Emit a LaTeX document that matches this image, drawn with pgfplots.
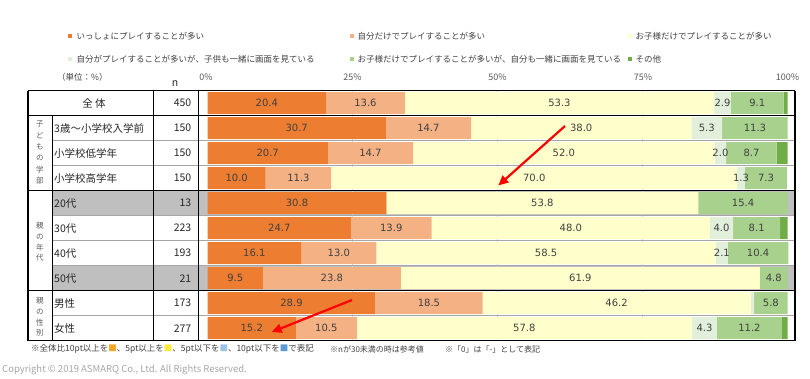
\documentclass[border=0pt]{standalone}
\usepackage{fontspec}
\setmainfont{Noto Sans CJK JP}
\newfontfamily\numfont{DejaVu Sans}
\usepackage{pgfplots}
\pgfplotsset{compat=1.18}
\usepackage{pgfplotstable}
\usetikzlibrary{arrows.meta}
\definecolor{c1}{HTML}{ED7D31}
\definecolor{c2}{HTML}{F4B183}
\definecolor{c3}{HTML}{FFFFCC}
\definecolor{c4}{HTML}{E2EFDA}
\definecolor{c5}{HTML}{A9D18E}
\definecolor{c6}{HTML}{70AD47}
\definecolor{rowgray}{HTML}{BFBFBF}
\definecolor{gridgray}{HTML}{D9D9D9}
\definecolor{sepgray}{HTML}{A6A6A6}
\definecolor{txt}{HTML}{262626}
\definecolor{lab}{HTML}{404040}
\definecolor{subgray}{HTML}{595959}
\definecolor{nOrange}{HTML}{F5A623}
\definecolor{nYellow}{HTML}{FFEB3B}
\definecolor{nLBlue}{HTML}{9DC3E6}
\definecolor{nBlue}{HTML}{5B9BD5}

\pgfplotstableread{
row a b c d e f
0 20.4 13.6 53.3 2.9 9.1 0.7
1 30.7 14.7 38.0 5.3 11.3 0
2 20.7 14.7 52.0 2.0 8.7 1.9
3 10.0 11.3 70.0 1.3 7.3 0
4 30.8 0 53.8 0 15.4 0
5 24.7 13.9 48.0 4.0 8.1 1.3
6 16.1 13.0 58.5 2.1 10.4 0
7 9.5 23.8 61.9 0 4.8 0
8 28.9 18.5 46.2 0.6 5.8 0
9 15.2 10.5 57.8 4.3 11.2 1.0
}\datatable

\pgfplotsset{
  commonax/.style={at={(0pt,0pt)}, anchor=south west, scale only axis,
    width=767pt, height=250pt,
    xmin=-30.98, xmax=101.26, ymin=-0.5, ymax=9.5, y dir=reverse,
    hide axis, clip=false},
}

\begin{document}
\begin{tikzpicture}[pix/.style={x=1pt,y=-1pt,shift={(-28pt,340.7pt)}}]
\path[use as bounding box] (-28pt,-38.3pt) rectangle (782pt,340.7pt);
% backgrounds
\begin{scope}[pix]
  \fill[rowgray] (52,190.7) rectangle (795,215.7);
  \fill[rowgray] (52,265.7) rectangle (795,290.7);
  \draw[gridgray, line width=0.6pt] (352.7,90.7) -- (352.7,340.7);
  \draw[gridgray, line width=0.6pt] (497.7,90.7) -- (497.7,340.7);
  \draw[gridgray, line width=0.6pt] (642.7,90.7) -- (642.7,340.7);
\end{scope}

\begin{axis}[commonax, xbar stacked, bar width=22pt]
\addplot[fill=c1, draw=none] table[x=a, y=row]{\datatable};
\addplot[fill=c2, draw=none] table[x=b, y=row]{\datatable};
\addplot[fill=c3, draw=none] table[x=c, y=row]{\datatable};
\addplot[fill=c4, draw=none] table[x=d, y=row]{\datatable};
\addplot[fill=c5, draw=none] table[x=e, y=row]{\datatable};
\addplot[fill=c6, draw=none] table[x=f, y=row]{\datatable};
\end{axis}

% segment value labels (at the middle of each segment)
\begin{axis}[commonax]
\addplot[draw=none, mark=none, point meta=explicit symbolic, nodes near coords,
  every node near coord/.append style={anchor=center, inner sep=0pt,
    font=\numfont\fontsize{10}{12}\selectfont, text=lab}]
coordinates {
(10.2,0) [20.4] (27.2,0) [13.6] (60.65,0) [53.3] (88.75,0) [2.9] (94.75,0) [9.1]
(15.35,1) [30.7] (38.05,1) [14.7] (64.4,1) [38.0] (86.05,1) [5.3] (94.35,1) [11.3]
(10.35,2) [20.7] (28.05,2) [14.7] (61.4,2) [52.0] (88.4,2) [2.0] (93.75,2) [8.7]
(5.0,3) [10.0] (15.65,3) [11.3] (56.3,3) [70.0] (91.95,3) [1.3] (96.25,3) [7.3]
(15.4,4) [30.8] (57.7,4) [53.8] (92.3,4) [15.4]
(12.35,5) [24.7] (31.65,5) [13.9] (62.6,5) [48.0] (88.6,5) [4.0] (94.65,5) [8.1]
(8.05,6) [16.1] (22.6,6) [13.0] (58.35,6) [58.5] (88.65,6) [2.1] (94.9,6) [10.4]
(4.75,7) [9.5] (21.4,7) [23.8] (64.25,7) [61.9] (97.6,7) [4.8]
(14.45,8) [28.9] (38.15,8) [18.5] (70.5,8) [46.2] (97.1,8) [5.8]
(7.6,9) [15.2] (20.45,9) [10.5] (54.6,9) [57.8] (85.65,9) [4.3] (93.4,9) [11.2]
};
\end{axis}

\begin{scope}[pix]
  % horizontal lines
  \foreach \yy in {140.7,165.7,215.7,240.7,265.7,315.7}
    \draw[sepgray, line width=0.5pt] (52,\yy) -- (795,\yy);
  \foreach \yy in {90.7,115.7,190.7,290.7,340.7}
    \draw[black, line width=1.1pt] (28,\yy) -- (795,\yy);
  % vertical lines
  \draw[black, line width=1.1pt] (28,90.7) -- (28,340.7);
  \draw[black, line width=1.1pt] (795,90.7) -- (795,340.7);
  \draw[black, line width=0.7pt] (52,115.7) -- (52,340.7);
  \draw[black, line width=0.7pt] (153,90.7) -- (153,340.7);
  \draw[black, line width=0.7pt] (198,90.7) -- (198,340.7);

  % table text
  \begin{scope}[every node/.style={inner sep=0pt, text=txt, font=\fontsize{10.5}{12}\selectfont}]
    \node at (94,103.2) {全 体};
    \node[anchor=west] at (54,128.2) {3歳〜小学校入学前};
    \node[anchor=west] at (54,153.2) {小学校低学年};
    \node[anchor=west] at (54,178.2) {小学校高学年};
    \node[anchor=west] at (54,203.2) {20代};
    \node[anchor=west] at (54,228.2) {30代};
    \node[anchor=west] at (54,253.2) {40代};
    \node[anchor=west] at (54,278.2) {50代};
    \node[anchor=west] at (54,303.2) {男性};
    \node[anchor=west] at (54,328.2) {女性};
    \node[anchor=east] at (191.5,103.2) {450};
    \node[anchor=east] at (191.5,128.2) {150};
    \node[anchor=east] at (191.5,153.2) {150};
    \node[anchor=east] at (191.5,178.2) {150};
    \node[anchor=east] at (191.5,203.2) {13};
    \node[anchor=east] at (191.5,228.2) {223};
    \node[anchor=east] at (191.5,253.2) {193};
    \node[anchor=east] at (191.5,278.2) {21};
    \node[anchor=east] at (191.5,303.2) {173};
    \node[anchor=east] at (191.5,328.2) {277};
    \node at (175,84) {n};
  \end{scope}
  \begin{scope}[every node/.style={inner sep=0pt, text=subgray, font=\fontsize{7.5}{9}\selectfont}]
    \node at (40,124) {子};
    \node at (40,135.4) {ど};
    \node at (40,146.8) {も};
    \node at (40,158.2) {の};
    \node at (40,169.6) {学};
    \node at (40,181) {部};
    \node at (40,226) {親};
    \node at (40,236.7) {の};
    \node at (40,247.4) {年};
    \node at (40,258.1) {代};
    \node at (40,301) {親};
    \node at (40,311.7) {の};
    \node at (40,322.4) {性};
    \node at (40,333.1) {別};
  \end{scope}

  % header
  \node[anchor=west, inner sep=0pt, text=lab, font=\fontsize{8.5}{10}\selectfont] at (57,77.7) {（単位：\%）};
  \begin{scope}[every node/.style={inner sep=0pt, text=subgray, font=\fontsize{9}{10}\selectfont}]
    \node at (206,77.7) {0\%};
    \node at (352.5,77.7) {25\%};
    \node at (497.5,77.7) {50\%};
    \node at (643,77.7) {75\%};
    \node at (787.5,77.7) {100\%};
  \end{scope}

  % legend
  \begin{scope}[every node/.style={anchor=west, inner sep=0pt, text=lab, font=\fontsize{8.5}{10}\selectfont}]
    \fill[c1] (67.8,33.8) rectangle (72.2,38.2);
    \node at (76.5,36) {いっしょにプレイすることが多い};
    \fill[c2] (349.8,33.8) rectangle (354.2,38.2);
    \node at (357.5,36) {自分だけでプレイすることが多い};
    \fill[c3] (627.8,33.8) rectangle (632.2,38.2);
    \node at (635.5,36) {お子様だけでプレイすることが多い};
    \fill[c4] (67.8,57.1) rectangle (72.2,61.5);
    \node at (76.5,59.3) {自分がプレイすることが多いが、子供も一緒に画面を見ている};
    \fill[c5] (349.8,57.1) rectangle (354.2,61.5);
    \node at (357.5,59.3) {お子様だけでプレイすることが多いが、自分も一緒に画面を見ている};
    \fill[c6] (627.8,57.1) rectangle (632.2,61.5);
    \node at (635.5,59.3) {その他};
  \end{scope}

  % arrows
  \draw[red, line width=2.2pt, -{Triangle[length=10pt,width=9pt]}] (565,126) -- (498.3,185.5);
  \draw[red, line width=2.2pt, -{Triangle[length=10pt,width=9pt]}] (352,300) -- (271.7,332);

  % notes
  \node[anchor=west, inner sep=0pt, text=lab, font=\fontsize{8.5}{10}\selectfont] at (31,349) {※全体比10pt以上を\textcolor{nOrange}{■}、5pt以上を\textcolor{nYellow}{■}、5pt以下を\textcolor{nLBlue}{■}、10pt以下を\textcolor{nBlue}{■}で表記};
  \begin{scope}[every node/.style={anchor=west, inner sep=0pt, text=lab, font=\fontsize{8}{10}\selectfont}]
    \node at (330,349) {※nが30未満の時は参考値};
    \node at (445,349) {※「0」は「-」として表記};
  \end{scope}
  \node[anchor=west, inner sep=0pt, text=sepgray, font=\fontsize{9.5}{11}\selectfont] at (2,370) {Copyright © 2019 ASMARQ Co., Ltd. All Rights Reserved.};
\end{scope}
\end{tikzpicture}
\end{document}
